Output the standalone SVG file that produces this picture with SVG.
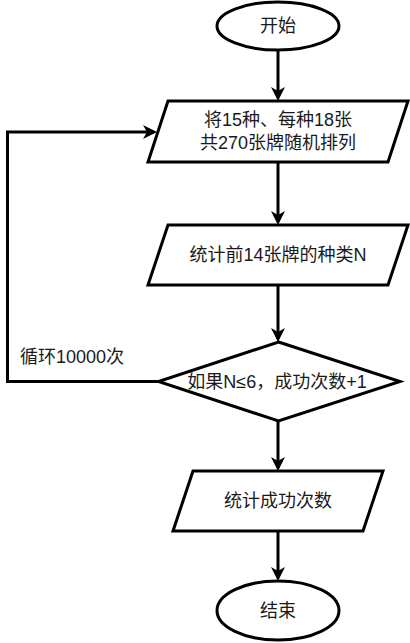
<svg xmlns="http://www.w3.org/2000/svg" width="410" height="643" viewBox="0 0 410 643">
  <style>
    .shape { fill: #ffffff; stroke: #000000; stroke-width: 3; }
    .edge { fill: none; stroke: #000000; stroke-width: 3; }
    .label { font-family: "Liberation Sans", "Noto Sans CJK SC", sans-serif; font-size: 18px; fill: #1a1a1a; text-anchor: middle; dominant-baseline: central; }
    .elabel { font-family: "Liberation Sans", "Noto Sans CJK SC", sans-serif; font-size: 18px; fill: #1a1a1a; dominant-baseline: central; }
  </style>
  <defs>
    <marker id="arrow" markerUnits="userSpaceOnUse" markerWidth="16" markerHeight="16" refX="11" refY="7" orient="auto">
      <path d="M0,0 L14,7 L0,14 L4,7 Z" fill="#000000" stroke="none"/>
    </marker>
  </defs>
  <rect x="0" y="0" width="410" height="643" fill="#ffffff"/>
  <g id="connectors">
    <path class="edge" d="M278,50 L278,98" marker-end="url(#arrow)"/>
    <path class="edge" d="M278,162 L278,222" marker-end="url(#arrow)"/>
    <path class="edge" d="M278,285 L278,339" marker-end="url(#arrow)"/>
    <path class="edge" d="M278,421 L278,468" marker-end="url(#arrow)"/>
    <path class="edge" d="M278,531 L278,578" marker-end="url(#arrow)"/>
    <path class="edge" d="M158.5,381.5 L7.5,381.5 L7.5,132 L154,132" marker-end="url(#arrow)"/>
    <text class="elabel" x="20" y="357">循环10000次</text>
  </g>
  <g id="start">
    <ellipse class="shape" cx="278" cy="26" rx="61" ry="24"/>
    <text class="label" x="278" y="26">开始</text>
  </g>
  <g id="shuffle">
    <polygon class="shape" points="168,101 408,101 388,162 148,162"/>
    <text class="label" x="278" y="120">将15种、每种18张</text>
    <text class="label" x="278" y="143">共270张牌随机排列</text>
  </g>
  <g id="count">
    <polygon class="shape" points="168,225 408,225 388,285 148,285"/>
    <text class="label" x="278" y="255">统计前14张牌的种类N</text>
  </g>
  <g id="decision">
    <polygon class="shape" points="278.5,342 400,381.5 278.5,421 158.5,381.5"/>
    <text class="label" x="277" y="382">如果N≤6，成功次数+1</text>
  </g>
  <g id="total">
    <polygon class="shape" points="193,471 383,471 363,531 173,531"/>
    <text class="label" x="278" y="501">统计成功次数</text>
  </g>
  <g id="end">
    <ellipse class="shape" cx="278" cy="610.5" rx="61" ry="29.5"/>
    <text class="label" x="278" y="610.5">结束</text>
  </g>
</svg>
